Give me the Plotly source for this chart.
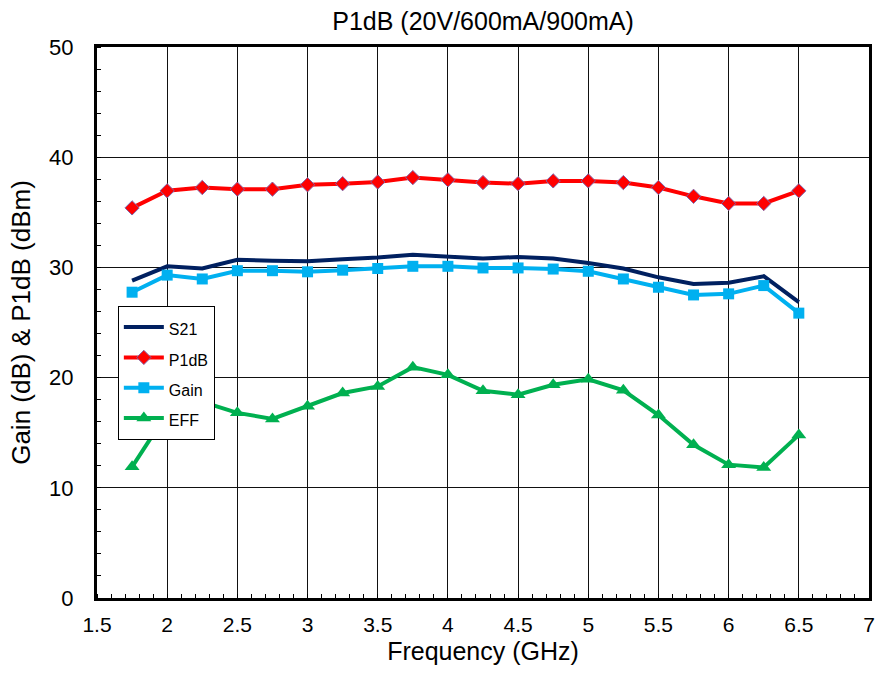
import plotly.graph_objects as go

freq = [1.75, 2.0, 2.25, 2.5, 2.75, 3.0, 3.25, 3.5, 3.75, 4.0, 4.25, 4.5,
        4.75, 5.0, 5.25, 5.5, 5.75, 6.0, 6.25, 6.5]
s21 = [28.8, 30.1, 29.9, 30.7, 30.6, 30.55, 30.75, 30.9, 31.15, 30.95, 30.8, 30.95,
       30.8, 30.4, 29.9, 29.1, 28.5, 28.6, 29.2, 26.85]
p1db = [35.4, 36.95, 37.25, 37.1, 37.1, 37.5, 37.6, 37.75, 38.15, 37.95, 37.7, 37.6,
        37.85, 37.85, 37.7, 37.25, 36.45, 35.8, 35.8, 36.95]
gain = [27.75, 29.3, 28.95, 29.7, 29.7, 29.6, 29.75, 29.9, 30.1, 30.1, 29.95, 29.95,
        29.85, 29.65, 28.95, 28.2, 27.5, 27.6, 28.35, 25.85]
eff = [11.9, 16.8, 17.8, 16.8, 16.25, 17.4, 18.6, 19.2, 20.95, 20.25, 18.8, 18.45,
       19.35, 19.85, 18.85, 16.6, 13.9, 12.1, 11.85, 14.8]

series_names = ["S21", "P1dB", "Gain", "EFF"]
x_ticks = [1.5, 2, 2.5, 3, 3.5, 4, 4.5, 5, 5.5, 6, 6.5, 7]
x_labels = ["1.5", "2", "2.5", "3", "3.5", "4", "4.5", "5", "5.5", "6", "6.5", "7"]
y_ticks = [0, 10, 20, 30, 40, 50]


def legend_name(s):
    return '<span style="font-size:16px">' + s + '</span>'


fig = go.Figure()
fig.add_trace(go.Scatter(x=freq, y=s21, name=legend_name(series_names[0]), mode="lines",
                         line=dict(color="#002060", width=4)))
fig.add_trace(go.Scatter(x=freq, y=p1db, name=legend_name(series_names[1]), mode="lines+markers",
                         line=dict(color="#FF0000", width=4),
                         marker=dict(symbol="diamond", size=11, color="#FF0000",
                                     line=dict(color="#7F64A8", width=1))))
fig.add_trace(go.Scatter(x=freq, y=gain, name=legend_name(series_names[2]), mode="lines+markers",
                         line=dict(color="#00B0F0", width=4),
                         marker=dict(symbol="square", size=11, color="#00B0F0")))
fig.add_trace(go.Scatter(x=freq, y=eff, name=legend_name(series_names[3]), mode="lines+markers",
                         line=dict(color="#00B050", width=4),
                         marker=dict(symbol="triangle-up", size=13, color="#00B050")))

fig.update_layout(
    width=880, height=679,
    margin=dict(l=97, r=11, t=47, b=81),
    paper_bgcolor="white", plot_bgcolor="white",
    font=dict(family="Liberation Sans, Arial", color="black", size=21),
    title=dict(text="P1dB (20V/600mA/900mA)", x=0.5, xanchor="center", xref="paper",
               y=1 - 21 / 679, yanchor="middle",
               font=dict(family="Liberation Sans, Arial", size=25)),
    legend=dict(x=0.027, y=0.53, xanchor="left", yanchor="top",
                bgcolor="white", bordercolor="black", borderwidth=1,
                font=dict(size=21), itemwidth=40, tracegroupgap=0),
    showlegend=True,
)
fig.update_xaxes(
    range=[1.5, 7], tickvals=x_ticks, ticktext=x_labels,
    showgrid=True, gridcolor="#111111", gridwidth=1,
    showline=True, linecolor="black", linewidth=3, mirror=True,
    ticks="", ticklabelstandoff=6, tickfont=dict(size=21),
    minor=dict(dtick=0.1, ticks="inside", ticklen=4, tickcolor="black", showgrid=False),
    title=dict(text="Frequency (GHz)", font=dict(size=25), standoff=8),
    zeroline=False, automargin=False,
)
fig.update_yaxes(
    range=[0, 50], tickvals=y_ticks,
    showgrid=True, gridcolor="#111111", gridwidth=1,
    showline=True, linecolor="black", linewidth=3, mirror=True,
    ticks="", ticklabelstandoff=16, tickfont=dict(size=22),
    minor=dict(dtick=2, ticks="inside", ticklen=4, tickcolor="black", showgrid=False),
    title=dict(text="Gain (dB) & P1dB (dBm)", font=dict(size=26), standoff=12),
    zeroline=False, automargin=False,
)

fig.write_html("out.html", config={"displayModeBar": False},
               post_script="document.body.style.margin='0';")
